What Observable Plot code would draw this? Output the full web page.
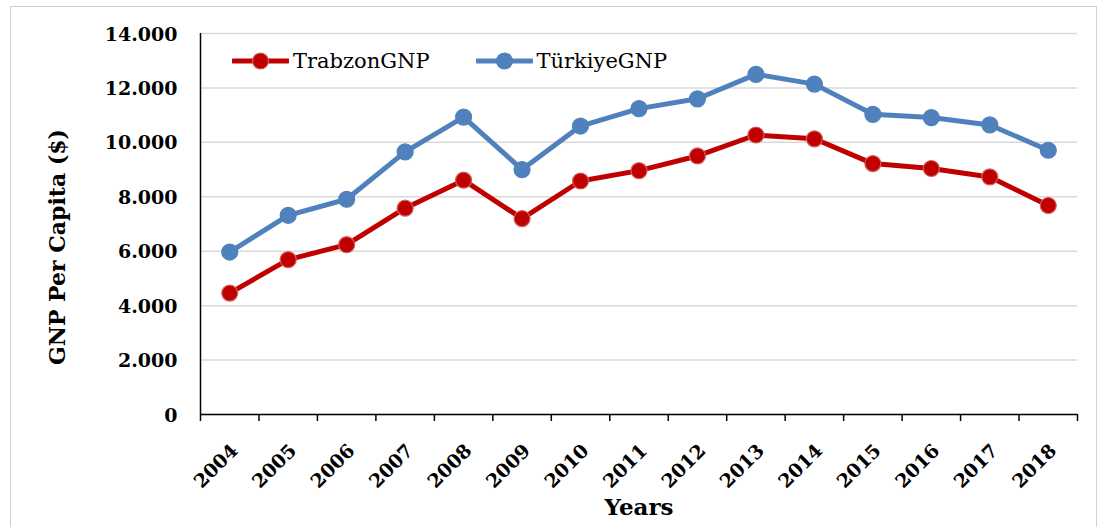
<!DOCTYPE html>
<html>
<head>
<meta charset="utf-8">
<script src="https://cdn.jsdelivr.net/npm/d3@7"></script>
<script src="https://cdn.jsdelivr.net/npm/@observablehq/plot@0.6"></script>
<style>
  html, body { margin: 0; padding: 0; background: #fff; }
  #wrap { position: relative; width: 1105px; height: 527px; overflow: hidden; font-family: "DejaVu Serif", serif; }
  #border { position: absolute; left: 10px; top: 6px; width: 1087px; height: 600px; border: 1.5px solid #d0d0d0; box-sizing: border-box; }
  #chart { position: absolute; left: 0; top: 0; }
  #legend { position: absolute; left: 232px; top: 49px; display: flex; align-items: center; font-size: 21px; color: #000; }
  .item { display: flex; align-items: center; }
  .item svg { display: block; }
  .item span { margin-left: 4px; line-height: 24px; }
</style>
</head>
<body>
<div id="wrap">
  <div id="border"></div>
  <div id="chart"></div>
  <div id="legend"></div>
</div>
<script>
const years = [2004, 2005, 2006, 2007, 2008, 2009, 2010, 2011, 2012, 2013, 2014, 2015, 2016, 2017, 2018];
const trabzonGNP = [4460, 5690, 6240, 7580, 8610, 7200, 8580, 8960, 9500, 10270, 10130, 9220, 9040, 8730, 7680];
const turkiyeGNP = [5970, 7320, 7910, 9650, 10930, 9000, 10600, 11240, 11600, 12500, 12140, 11030, 10910, 10640, 9710];
const yTicks = [0, 2000, 4000, 6000, 8000, 10000, 12000, 14000];
const seriesNames = ["TrabzonGNP", "TürkiyeGNP"];
const seriesColors = ["#C00000", "#4F81BD"];
const markerEdges = ["#D0605E", "#4F81BD"];
const yLabel = "GNP Per Capita ($)";
const xLabel = "Years";

const rows = years.map((y, i) => ({year: y, trabzon: trabzonGNP[i], turkiye: turkiyeGNP[i]}));
const boundaries = [years[0] - 0.5, ...years.map(y => y + 0.5)];
const fmt = d3.formatLocale({decimal: ",", thousands: ".", grouping: [3], currency: ["", "$"]}).format(",");

const chart = Plot.plot({
  width: 1105,
  height: 527,
  marginLeft: 200,
  marginRight: 28,
  marginTop: 33,
  marginBottom: 113,
  x: {domain: [years[0] - 0.5, years[years.length - 1] + 0.5], axis: null},
  y: {domain: [0, 14000], axis: null},
  style: {fontFamily: "DejaVu Serif", background: "transparent", color: "#000", overflow: "visible"},
  marks: [
    Plot.gridY(yTicks, {stroke: "#d9d9d9", strokeOpacity: 1, strokeWidth: 1.5}),
    Plot.axisY(yTicks, {tickSize: 0, tickPadding: 23, tickFormat: fmt, fontSize: 19, fontWeight: "bold", label: null, style: "letter-spacing:1px", dy: 1}),
    Plot.axisX(boundaries, {tickSize: 7, tickFormat: () => "", label: null, strokeWidth: 1.5}),
    Plot.ruleX([years[0] - 0.5], {stroke: "#000", strokeWidth: 1.5}),
    Plot.ruleY([0], {stroke: "#000", strokeWidth: 1.5}),
    Plot.text(years, {x: d => d, text: d => String(d), frameAnchor: "bottom", rotate: -45, textAnchor: "end", lineAnchor: "middle", dx: 5, dy: 33, fontSize: 19, fontWeight: "bold", style: "letter-spacing:1px"}),
    Plot.text([yLabel], {frameAnchor: "left", rotate: -90, textAnchor: "middle", lineAnchor: "middle", dx: -143, dy: 23, fontSize: 22, fontWeight: "bold", style: "letter-spacing:1px"}),
    Plot.text([xLabel], {frameAnchor: "bottom", textAnchor: "middle", lineAnchor: "middle", dy: 93, fontSize: 23, fontWeight: "bold", style: "letter-spacing:1px"}),
    Plot.line(rows, {x: "year", y: "turkiye", stroke: seriesColors[1], strokeWidth: 5}),
    Plot.dot(rows, {x: "year", y: "turkiye", r: 8, fill: seriesColors[1], stroke: markerEdges[1], strokeWidth: 1.2}),
    Plot.line(rows, {x: "year", y: "trabzon", stroke: seriesColors[0], strokeWidth: 5}),
    Plot.dot(rows, {x: "year", y: "trabzon", r: 8, fill: seriesColors[0], stroke: markerEdges[0], strokeWidth: 1.2})
  ]
});
document.getElementById("chart").appendChild(chart);

const legend = document.getElementById("legend");
seriesNames.forEach((name, i) => {
  const item = document.createElement("div");
  item.className = "item";
  if (i > 0) item.style.marginLeft = "46px";
  item.innerHTML = `<svg width="57" height="20"><line x1="1" y1="10" x2="56" y2="10" stroke="${seriesColors[i]}" stroke-width="5" stroke-linecap="round"/><circle cx="28.5" cy="10" r="8" fill="${seriesColors[i]}" stroke="${markerEdges[i]}" stroke-width="1.2"/></svg><span>${name}</span>`;
  legend.appendChild(item);
});
</script>
</body>
</html>
